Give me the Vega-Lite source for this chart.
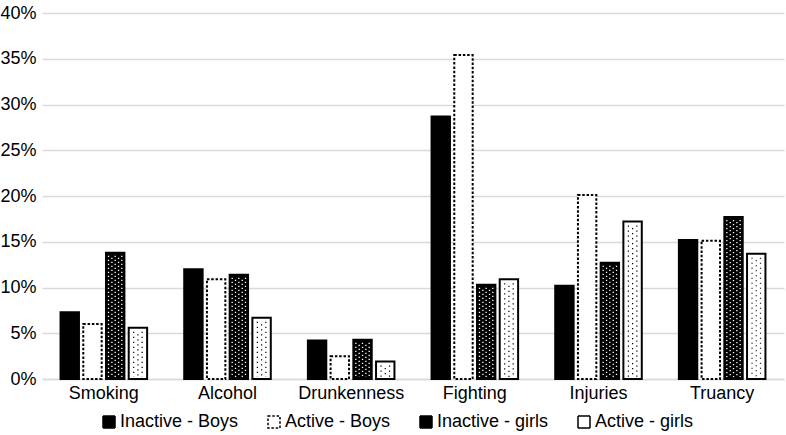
{
  "$schema": "https://vega.github.io/schema/vega-lite/v6.json",
  "width": 742,
  "height": 366,
  "autosize": {"type": "none"},
  "padding": {"left": 42, "top": 13, "right": 2, "bottom": 56},
  "background": "white",
  "config": {"view": {"stroke": null}, "font": "Liberation Sans"},
  "data": {
    "values": [
      {"category": "Smoking", "series": "Inactive - Boys", "value": 0.073},
      {"category": "Smoking", "series": "Active - Boys", "value": 0.060},
      {"category": "Smoking", "series": "Inactive - girls", "value": 0.138},
      {"category": "Smoking", "series": "Active - girls", "value": 0.056},
      {"category": "Alcohol", "series": "Inactive - Boys", "value": 0.120},
      {"category": "Alcohol", "series": "Active - Boys", "value": 0.109},
      {"category": "Alcohol", "series": "Inactive - girls", "value": 0.114},
      {"category": "Alcohol", "series": "Active - girls", "value": 0.067},
      {"category": "Drunkenness", "series": "Inactive - Boys", "value": 0.042},
      {"category": "Drunkenness", "series": "Active - Boys", "value": 0.025},
      {"category": "Drunkenness", "series": "Inactive - girls", "value": 0.043},
      {"category": "Drunkenness", "series": "Active - girls", "value": 0.019},
      {"category": "Fighting", "series": "Inactive - Boys", "value": 0.287},
      {"category": "Fighting", "series": "Active - Boys", "value": 0.354},
      {"category": "Fighting", "series": "Inactive - girls", "value": 0.103},
      {"category": "Fighting", "series": "Active - girls", "value": 0.109},
      {"category": "Injuries", "series": "Inactive - Boys", "value": 0.102},
      {"category": "Injuries", "series": "Active - Boys", "value": 0.201},
      {"category": "Injuries", "series": "Inactive - girls", "value": 0.127},
      {"category": "Injuries", "series": "Active - girls", "value": 0.172},
      {"category": "Truancy", "series": "Inactive - Boys", "value": 0.152},
      {"category": "Truancy", "series": "Active - Boys", "value": 0.151},
      {"category": "Truancy", "series": "Inactive - girls", "value": 0.177},
      {"category": "Truancy", "series": "Active - girls", "value": 0.137}
    ]
  },
  "encoding": {
    "x": {
      "field": "category", "type": "nominal",
      "sort": ["Smoking", "Alcohol", "Drunkenness", "Fighting", "Injuries", "Truancy"],
      "scale": {"paddingInner": 0.3, "paddingOuter": 0.15},
      "axis": {
        "title": null, "labelAngle": 0, "labelFont": "Liberation Sans", "labelFontSize": 18,
        "labelColor": "black", "ticks": false, "domain": true, "domainColor": "#d9d9d9",
        "domainWidth": 1.5, "labelPadding": 5
      }
    },
    "y": {
      "field": "value", "type": "quantitative", "stack": null,
      "scale": {"domain": [0, 0.4], "nice": false},
      "axis": {
        "title": null, "format": ".0%",
        "values": [0, 0.05, 0.1, 0.15, 0.2, 0.25, 0.3, 0.35, 0.4],
        "grid": true, "gridColor": "#d9d9d9", "gridWidth": 1.5,
        "domain": false, "ticks": false, "labelFont": "Liberation Sans",
        "labelFontSize": 18, "labelColor": "black", "labelPadding": 6
      }
    }
  },
  "layer": [
    {
      "mark": {"type": "bar", "stroke": "black", "strokeWidth": 2},
      "encoding": {
        "xOffset": {
          "field": "series", "type": "nominal",
          "sort": ["Inactive - Boys", "Active - Boys", "Inactive - girls", "Active - girls"],
          "scale": {"domain": ["Inactive - Boys", "Active - Boys", "Inactive - girls", "Active - girls"], "paddingInner": 0.19, "paddingOuter": 0}
        },
        "fill": {
          "field": "series", "type": "nominal",
          "scale": {"domain": ["Inactive - Boys", "Active - Boys", "Inactive - girls", "Active - girls"], "range": ["black", "white", "black", "white"]},
          "legend": {
            "title": null, "orient": "none", "legendX": 58, "legendY": 400,
            "direction": "horizontal", "columns": 4, "columnPadding": 26,
            "symbolType": "square", "symbolSize": 144, "symbolStrokeWidth": 1.5,
            "symbolStrokeColor": "black", "labelFont": "Liberation Sans",
            "labelFontSize": 18, "labelColor": "black", "labelOffset": 2, "labelLimit": 300,
            "encode": {"symbols": {"update": {"stroke": {"value": "black"}, "strokeWidth": {"value": 1.5}}}}
          }
        },
        "strokeDash": {
          "field": "series", "type": "nominal",
          "scale": {"domain": ["Inactive - Boys", "Active - Boys", "Inactive - girls", "Active - girls"], "range": [[1, 0], [2.5, 1.8], [1, 0], [1, 0]]},
          "legend": {
            "title": null, "orient": "none", "legendX": 58, "legendY": 400,
            "direction": "horizontal", "columns": 4, "columnPadding": 26,
            "symbolType": "square", "symbolSize": 144, "symbolStrokeWidth": 1.5,
            "symbolStrokeColor": "black", "labelFont": "Liberation Sans",
            "labelFontSize": 18, "labelColor": "black", "labelOffset": 2, "labelLimit": 300,
            "encode": {"symbols": {"update": {"stroke": {"value": "black"}, "strokeWidth": {"value": 1.5}}}}
          }
        }
      }
    },
    {
      "transform": [{"filter": "datum.series === 'Inactive - girls'"}],
      "mark": {"type": "rule", "stroke": "white", "strokeWidth": 1.3, "strokeDash": [1.3, 2.7], "yOffset": 3, "y2Offset": -2},
      "encoding": {"x": {"field": "category", "type": "nominal", "sort": ["Smoking", "Alcohol", "Drunkenness", "Fighting", "Injuries", "Truancy"], "bandPosition": 0.554}, "y2": {"datum": 0}}
    },
    {
      "transform": [{"filter": "datum.series === 'Inactive - girls'"}],
      "mark": {"type": "rule", "stroke": "white", "strokeWidth": 1.3, "strokeDash": [1.3, 2.7], "strokeDashOffset": 2, "yOffset": 3, "y2Offset": -2},
      "encoding": {"x": {"field": "category", "type": "nominal", "sort": ["Smoking", "Alcohol", "Drunkenness", "Fighting", "Injuries", "Truancy"], "bandPosition": 0.593}, "y2": {"datum": 0}}
    },
    {
      "transform": [{"filter": "datum.series === 'Inactive - girls'"}],
      "mark": {"type": "rule", "stroke": "white", "strokeWidth": 1.3, "strokeDash": [1.3, 2.7], "yOffset": 3, "y2Offset": -2},
      "encoding": {"x": {"field": "category", "type": "nominal", "sort": ["Smoking", "Alcohol", "Drunkenness", "Fighting", "Injuries", "Truancy"], "bandPosition": 0.631}, "y2": {"datum": 0}}
    },
    {
      "transform": [{"filter": "datum.series === 'Inactive - girls'"}],
      "mark": {"type": "rule", "stroke": "white", "strokeWidth": 1.3, "strokeDash": [1.3, 2.7], "strokeDashOffset": 2, "yOffset": 3, "y2Offset": -2},
      "encoding": {"x": {"field": "category", "type": "nominal", "sort": ["Smoking", "Alcohol", "Drunkenness", "Fighting", "Injuries", "Truancy"], "bandPosition": 0.670}, "y2": {"datum": 0}}
    },
    {
      "transform": [{"filter": "datum.series === 'Inactive - girls'"}],
      "mark": {"type": "rule", "stroke": "white", "strokeWidth": 1.3, "strokeDash": [1.3, 2.7], "yOffset": 3, "y2Offset": -2},
      "encoding": {"x": {"field": "category", "type": "nominal", "sort": ["Smoking", "Alcohol", "Drunkenness", "Fighting", "Injuries", "Truancy"], "bandPosition": 0.708}, "y2": {"datum": 0}}
    },
    {
      "transform": [{"filter": "datum.series === 'Active - girls'"}],
      "mark": {"type": "rule", "stroke": "black", "strokeWidth": 1.2, "strokeDash": [1.2, 3.8], "yOffset": 4, "y2Offset": -2},
      "encoding": {"x": {"field": "category", "type": "nominal", "sort": ["Smoking", "Alcohol", "Drunkenness", "Fighting", "Injuries", "Truancy"], "bandPosition": 0.845}, "y2": {"datum": 0}}
    },
    {
      "transform": [{"filter": "datum.series === 'Active - girls'"}],
      "mark": {"type": "rule", "stroke": "black", "strokeWidth": 1.2, "strokeDash": [1.2, 3.8], "strokeDashOffset": 2.5, "yOffset": 4, "y2Offset": -2},
      "encoding": {"x": {"field": "category", "type": "nominal", "sort": ["Smoking", "Alcohol", "Drunkenness", "Fighting", "Injuries", "Truancy"], "bandPosition": 0.894}, "y2": {"datum": 0}}
    },
    {
      "transform": [{"filter": "datum.series === 'Active - girls'"}],
      "mark": {"type": "rule", "stroke": "black", "strokeWidth": 1.2, "strokeDash": [1.2, 3.8], "yOffset": 4, "y2Offset": -2},
      "encoding": {"x": {"field": "category", "type": "nominal", "sort": ["Smoking", "Alcohol", "Drunkenness", "Fighting", "Injuries", "Truancy"], "bandPosition": 0.943}, "y2": {"datum": 0}}
    }
  ]
}
